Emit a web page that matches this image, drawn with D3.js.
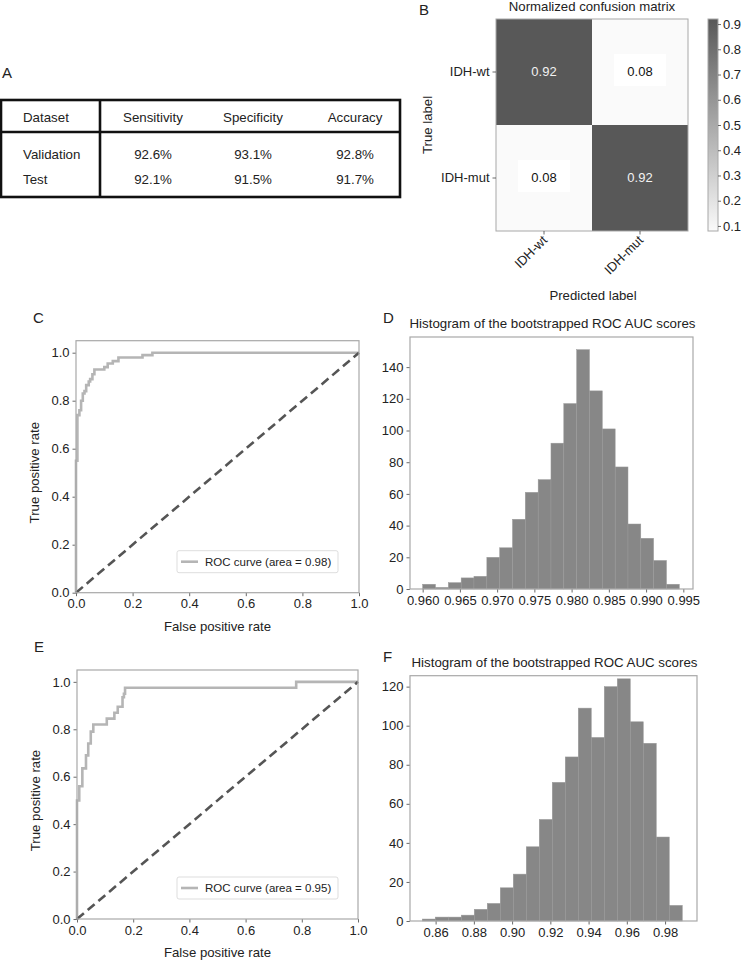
<!DOCTYPE html>
<html>
<head>
<meta charset="utf-8">
<script src="https://cdn.jsdelivr.net/npm/d3@7"></script>
<style>
  body { margin: 0; background: #fff; }
  svg text { font-family: "Liberation Sans", Arial, sans-serif; fill: #222; }
</style>
</head>
<body>
<svg id="fig" width="745" height="960"></svg>
<script>
// ---- data ----
const tableHeader = ["Dataset", "Sensitivity", "Specificity", "Accuracy"];
const tableRows = [
  ["Validation", "92.6%", "93.1%", "92.8%"],
  ["Test", "92.1%", "91.5%", "91.7%"]
];

const cmLabels = ["IDH-wt", "IDH-mut"];
const cmValues = [[0.92, 0.08], [0.08, 0.92]];
const cbTicks = [0.1, 0.2, 0.3, 0.4, 0.5, 0.6, 0.7, 0.8, 0.9];

// ROC curves (corner points, drawn as steps)
const rocValFpr = [0, 0, 0.005, 0.012, 0.018, 0.024, 0.03, 0.036, 0.045, 0.05, 0.058, 0.065, 0.10, 0.112, 0.13, 0.15, 0.235, 0.27, 1.0];
const rocValTpr = [0, 0.55, 0.74, 0.76, 0.80, 0.83, 0.84, 0.865, 0.88, 0.89, 0.91, 0.93, 0.94, 0.955, 0.965, 0.98, 0.99, 1.0, 1.0];
const rocTestFpr = [0, 0, 0.008, 0.019, 0.032, 0.04, 0.049, 0.058, 0.106, 0.133, 0.145, 0.162, 0.167, 0.171, 0.78, 1.0];
const rocTestTpr = [0, 0.50, 0.56, 0.635, 0.69, 0.74, 0.79, 0.82, 0.845, 0.87, 0.895, 0.935, 0.95, 0.975, 1.0, 1.0];
const rocTicks = [0, 0.2, 0.4, 0.6, 0.8, 1.0];

// bootstrapped AUC histograms
const histValEdges = [0.96000, 0.96172, 0.96345, 0.96517, 0.96689, 0.96862, 0.97034, 0.97206, 0.97378, 0.97551, 0.97723,
  0.97895, 0.98068, 0.98240, 0.98412, 0.98585, 0.98757, 0.98929, 0.99101, 0.99274, 0.99446];
const histValCounts = [3, 1, 4, 7, 8, 20, 26, 44, 61, 69, 92, 117, 151, 125, 101, 77, 41, 32, 18, 3];
const histValXTicks = [0.960, 0.965, 0.970, 0.975, 0.980, 0.985, 0.990, 0.995];
const histValYTicks = [0, 20, 40, 60, 80, 100, 120, 140];

const histTestEdges = [0.8530, 0.8598, 0.8666, 0.8734, 0.8802, 0.8870, 0.8938, 0.9006, 0.9074, 0.9142, 0.9210,
  0.9278, 0.9346, 0.9414, 0.9482, 0.9550, 0.9618, 0.9686, 0.9754, 0.9822, 0.9890];
const histTestCounts = [1, 2, 2, 3, 6, 9, 17, 24, 38, 52, 71, 84, 109, 94, 120, 124, 102, 91, 43, 8];
const histTestXTicks = [0.86, 0.88, 0.90, 0.92, 0.94, 0.96, 0.98];
const histTestYTicks = [0, 20, 40, 60, 80, 100, 120];

const svg = d3.select("#fig");
const SPINE = "#a8a8a8";

function letter(x, y, t) {
  svg.append("text").attr("x", x).attr("y", y).attr("font-size", "15px").text(t);
}

function styleAxis(g) {
  g.select(".domain").remove();
  g.selectAll(".tick line").attr("stroke", "#444").attr("stroke-width", 0.8);
  g.selectAll(".tick text").attr("font-size", "13px").attr("fill", "#222")
    .attr("font-family", "Liberation Sans, Arial, sans-serif");
}

// ---- A: table ----
letter(2, 78, "A");
(function drawTable() {
  const left = 1, right = 400, top = 100, headBottom = 132, bottom = 197, divX = 100;
  const colX = [23, 153, 253, 355];
  const t = svg.append("g");
  t.append("rect").attr("x", left).attr("y", top).attr("width", right - left).attr("height", bottom - top)
    .attr("fill", "none").attr("stroke", "#111").attr("stroke-width", 2.6);
  t.append("line").attr("x1", left).attr("x2", right).attr("y1", headBottom).attr("y2", headBottom)
    .attr("stroke", "#111").attr("stroke-width", 2.6);
  t.append("line").attr("x1", divX).attr("x2", divX).attr("y1", top).attr("y2", bottom)
    .attr("stroke", "#111").attr("stroke-width", 2.6);
  tableHeader.forEach((h, i) => {
    t.append("text").attr("x", colX[i]).attr("y", 122).attr("font-size", "13.3px")
      .attr("text-anchor", i === 0 ? "start" : "middle").text(h);
  });
  const rowY = [158.5, 183.5];
  tableRows.forEach((row, r) => {
    row.forEach((v, i) => {
      t.append("text").attr("x", colX[i]).attr("y", rowY[r]).attr("font-size", "13.3px")
        .attr("text-anchor", i === 0 ? "start" : "middle").text(v);
    });
  });
})();

// ---- B: confusion matrix ----
letter(419, 15, "B");
(function drawConfusion() {
  const x = d3.scaleBand().domain(cmLabels).range([496, 688]);
  const y = d3.scaleBand().domain(cmLabels).range([19, 231]);
  const color = d3.scaleLinear().domain([0.08, 0.92]).range(["#fafafa", "#585858"]);
  const g = svg.append("g");

  cmValues.forEach((row, r) => {
    row.forEach((v, c) => {
      g.append("rect").attr("x", x(cmLabels[c])).attr("y", y(cmLabels[r]))
        .attr("width", x.bandwidth()).attr("height", y.bandwidth()).attr("fill", color(v));
      const cx = x(cmLabels[c]) + x.bandwidth() / 2, cy = y(cmLabels[r]) + y.bandwidth() / 2;
      if (v < 0.5) {
        g.append("rect").attr("x", cx - 26).attr("y", cy - 18).attr("width", 52).attr("height", 32).attr("fill", "#fff");
      }
      g.append("text").attr("x", cx).attr("y", cy + 4).attr("text-anchor", "middle")
        .attr("font-size", "13px").style("fill", v > 0.5 ? "#f2f2f2" : "#111")
        .text(v.toFixed(2));
    });
  });
  g.append("rect").attr("x", 496).attr("y", 19).attr("width", 192).attr("height", 212)
    .attr("fill", "none").attr("stroke", SPINE).attr("stroke-width", 1);

  g.append("g").attr("transform", "translate(496,0)")
    .call(d3.axisLeft(y).tickSize(3.5).tickPadding(3)).call(styleAxis);
  const xa = g.append("g").attr("transform", "translate(0,231)")
    .call(d3.axisBottom(x).tickSize(3.5)).call(styleAxis);
  xa.selectAll(".tick text")
    .attr("text-anchor", "end").attr("dy", 0).attr("y", 0)
    .attr("transform", "translate(4,10) rotate(-45)");

  g.append("text").attr("x", 592).attr("y", 11).attr("text-anchor", "middle")
    .attr("font-size", "13.2px").text("Normalized confusion matrix");
  g.append("text").attr("transform", "translate(432,125) rotate(-90)").attr("text-anchor", "middle")
    .attr("font-size", "13.2px").text("True label");
  g.append("text").attr("x", 593).attr("y", 300).attr("text-anchor", "middle")
    .attr("font-size", "13.2px").text("Predicted label");

  // colorbar
  const defs = svg.append("defs");
  const grad = defs.append("linearGradient").attr("id", "cbgrad")
    .attr("x1", 0).attr("x2", 0).attr("y1", 1).attr("y2", 0);
  grad.append("stop").attr("offset", "0%").attr("stop-color", color(0.08));
  grad.append("stop").attr("offset", "100%").attr("stop-color", color(0.92));
  const cbY = d3.scaleLinear().domain([0.08, 0.92]).range([231, 19]);
  g.append("rect").attr("x", 708).attr("y", 19).attr("width", 10).attr("height", 212)
    .attr("fill", "url(#cbgrad)").attr("stroke", SPINE).attr("stroke-width", 1);
  g.append("g").attr("transform", "translate(718,0)")
    .call(d3.axisRight(cbY).tickValues(cbTicks).tickFormat(d3.format(".1f")).tickSize(3).tickPadding(2))
    .call(styleAxis);
})();

// ---- C / E: ROC curves ----
function drawRoc(fpr, tpr, area, box, label) {
  const x = d3.scaleLinear().domain([0, 1]).range([box.left, box.right]);
  const y = d3.scaleLinear().domain([0, 1.05]).range([box.bottom, box.top]);
  const g = svg.append("g");
  letter(box.left - 43, box.top - 18, label);

  g.append("g").attr("transform", `translate(0,${box.bottom})`)
    .call(d3.axisBottom(x).tickValues(rocTicks).tickFormat(d3.format(".1f")).tickSize(3.5).tickPadding(3))
    .call(styleAxis);
  g.append("g").attr("transform", `translate(${box.left},0)`)
    .call(d3.axisLeft(y).tickValues(rocTicks).tickFormat(d3.format(".1f")).tickSize(3.5).tickPadding(3))
    .call(styleAxis);

  const pts = fpr.map((f, i) => [f, tpr[i]]);
  g.append("path").datum(pts)
    .attr("d", d3.line().x(d => x(d[0])).y(d => y(d[1])).curve(d3.curveStepAfter))
    .attr("fill", "none").attr("stroke", "#b5b5b5").attr("stroke-width", 2.6);
  g.append("path").datum([[0, 0], [1, 1]])
    .attr("d", d3.line().x(d => x(d[0])).y(d => y(d[1])))
    .attr("fill", "none").attr("stroke", "#555").attr("stroke-width", 2.6)
    .attr("stroke-dasharray", "9,5");

  g.append("rect").attr("x", box.left).attr("y", box.top).attr("width", box.right - box.left)
    .attr("height", box.bottom - box.top).attr("fill", "none").attr("stroke", SPINE).attr("stroke-width", 1.2);

  // legend
  const lg = g.append("g").attr("transform", `translate(177,${box.bottom - 42})`);
  lg.append("rect").attr("width", 161).attr("height", 22).attr("rx", 2)
    .attr("fill", "#fff").attr("stroke", "#d4d4d4").attr("stroke-width", 0.8);
  lg.append("line").attr("x1", 4).attr("x2", 21).attr("y1", 11).attr("y2", 11)
    .attr("stroke", "#b5b5b5").attr("stroke-width", 2.6);
  lg.append("text").attr("x", 28).attr("y", 15).attr("font-size", "11.5px")
    .text(`ROC curve (area = ${area})`);

  g.append("text").attr("x", (box.left + box.right) / 2).attr("y", box.bottom + 38)
    .attr("text-anchor", "middle").attr("font-size", "13.2px").text("False positive rate");
  g.append("text").attr("transform", `translate(${box.left - 37},${(box.top + box.bottom) / 2 + 6}) rotate(-90)`)
    .attr("text-anchor", "middle").attr("font-size", "13.2px").text("True positive rate");
}

drawRoc(rocValFpr, rocValTpr, "0.98", {left: 76, right: 359, top: 340.7, bottom: 592.7}, "C");
drawRoc(rocTestFpr, rocTestTpr, "0.95", {left: 77, right: 358, top: 670, bottom: 919}, "E");

// ---- D / F: histograms ----
function drawHist(edges, counts, xTicks, yTicks, fmt, box, label) {
  const x = d3.scaleLinear().domain(box.xDomain).range([box.left, box.right]);
  const y = d3.scaleLinear().domain([0, box.yMax]).range([box.bottom, box.top]);
  const g = svg.append("g");
  letter(box.left - 27, box.top - 14, label);

  g.selectAll("rect.bar").data(counts).enter().append("rect").attr("class", "bar")
    .attr("x", (d, i) => x(edges[i]))
    .attr("width", (d, i) => x(edges[i + 1]) - x(edges[i]))
    .attr("y", d => y(d))
    .attr("height", d => y(0) - y(d))
    .attr("fill", "#878787")
    .attr("stroke", "#9a9a9a").attr("stroke-width", 0.5);

  g.append("g").attr("transform", `translate(0,${box.bottom})`)
    .call(d3.axisBottom(x).tickValues(xTicks).tickFormat(d3.format(fmt)).tickSize(3.5).tickPadding(3))
    .call(styleAxis);
  g.append("g").attr("transform", `translate(${box.left},0)`)
    .call(d3.axisLeft(y).tickValues(yTicks).tickSize(3.5).tickPadding(3))
    .call(styleAxis);

  g.append("rect").attr("x", box.left).attr("y", box.top).attr("width", box.right - box.left)
    .attr("height", box.bottom - box.top).attr("fill", "none").attr("stroke", SPINE).attr("stroke-width", 1.2);

  g.append("text").attr("x", (box.left + box.right) / 2 + 1).attr("y", box.top - 9)
    .attr("text-anchor", "middle").attr("font-size", "13.3px")
    .text("Histogram of the bootstrapped ROC AUC scores");
}

drawHist(histValEdges, histValCounts, histValXTicks, histValYTicks, ".3f",
  {left: 410, right: 693, top: 337, bottom: 589, xDomain: [0.9583, 0.9963], yMax: 159}, "D");
drawHist(histTestEdges, histTestCounts, histTestXTicks, histTestYTicks, ".2f",
  {left: 410, right: 697, top: 675.7, bottom: 921, xDomain: [0.8466, 0.9967], yMax: 125.6}, "F");
</script>
</body>
</html>
